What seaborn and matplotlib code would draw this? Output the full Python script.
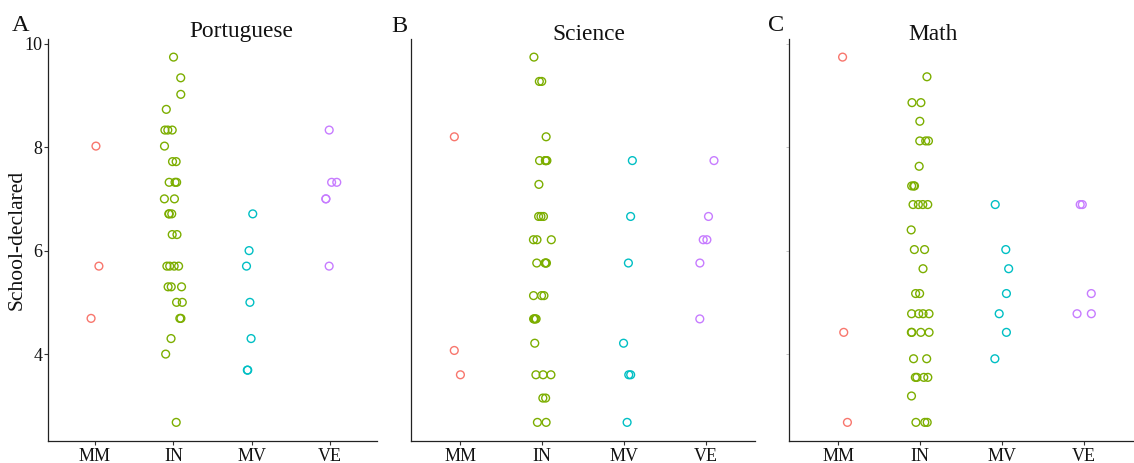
import matplotlib
matplotlib.use("Agg")
import matplotlib.pyplot as plt
import pandas as pd
import numpy as np
import seaborn as sns

# category order and ggplot-like colours
groups = ["MM", "IN", "MV", "VE"]
colors = {"MM": "#F8766D", "IN": "#7CAE00", "MV": "#00BFC4", "VE": "#C77CFF"}
subjects = ["Portuguese", "Science", "Math"]
letters = ["A", "B", "C"]

# Portuguese
port_mm = [8.02, 5.70, 4.69]
port_in = [9.74, 9.34, 9.02, 8.73, 8.33, 8.33, 8.33, 8.02, 7.72, 7.72,
           7.32, 7.32, 7.32, 7.00, 7.00, 6.71, 6.71, 6.71, 6.31, 6.31,
           5.70, 5.70, 5.70, 5.70, 5.30, 5.30, 5.30, 5.00, 5.00, 4.69,
           4.69, 4.30, 4.00, 2.68]
port_mv = [6.71, 6.00, 5.70, 5.00, 4.30, 3.69, 3.69]
port_ve = [8.33, 7.32, 7.32, 7.00, 7.00, 5.70]

# Science
sci_mm = [8.20, 4.07, 3.60]
sci_in = [9.74, 9.27, 9.27, 8.20, 7.74, 7.74, 7.74, 7.74, 7.74, 7.28,
          6.66, 6.66, 6.66, 6.21, 6.21, 6.21, 5.76, 5.76, 5.76, 5.76,
          5.13, 5.13, 5.13, 4.68, 4.68, 4.68, 4.68, 4.21, 3.60, 3.60,
          3.60, 3.15, 3.15, 2.68, 2.68]
sci_mv = [7.74, 6.66, 5.76, 4.21, 3.60, 3.60, 2.68]
sci_ve = [7.74, 6.66, 6.21, 6.21, 5.76, 4.68]

# Math
math_mm = [9.74, 4.42, 2.68]
math_in = [9.36, 8.86, 8.86, 8.50, 8.12, 8.12, 8.12, 7.63, 7.25, 7.25,
           7.25, 6.89, 6.89, 6.89, 6.89, 6.40, 6.02, 6.02, 5.65, 5.17,
           5.17, 4.78, 4.78, 4.78, 4.78, 4.42, 4.42, 4.42, 4.42, 3.91,
           3.91, 3.55, 3.55, 3.55, 3.55, 3.19, 2.68, 2.68, 2.68]
math_mv = [6.89, 6.02, 5.65, 5.17, 4.78, 4.42, 3.91]
math_ve = [6.89, 6.89, 5.17, 4.78, 4.78]

panels = [
    [port_mm, port_in, port_mv, port_ve],
    [sci_mm, sci_in, sci_mv, sci_ve],
    [math_mm, math_in, math_mv, math_ve],
]

sns.set_theme(style="white")
plt.rcParams['font.family'] = ['Liberation Serif', 'DejaVu Serif']
np.random.seed(3)

fig = plt.figure(figsize=(11.34, 4.63), dpi=100)
W, H = 1134, 463
ax_boxes = [(48, 329), (411, 344), (789, 344)]
top, bottom = 39, 441

title_pos = [(241, 37), (589, 40), (933, 40)]
letter_pos = [(12, 31), (391, 32), (768, 31)]

for i, vals in enumerate(panels):
    left, width = ax_boxes[i]
    ax = fig.add_axes([left / W, 1 - bottom / H, width / W, (bottom - top) / H])
    rows = []
    for g, v in zip(groups, vals):
        for y in v:
            rows.append({"group": g, "score": y})
    df = pd.DataFrame(rows)
    sns.stripplot(data=df, x="group", y="score", hue="group", order=groups,
                  hue_order=groups, palette=colors, jitter=0.12, size=5.6,
                  linewidth=0, legend=False, ax=ax)
    for c in ax.collections:
        fc = c.get_facecolor()
        c.set_facecolor("none")
        c.set_edgecolor(fc)
        c.set_linewidth(1.0)

    ax.set_xlim(-0.6, 3.6)
    ax.set_ylim(2.32, 10.09)
    ax.set_xlabel("")
    ax.set_ylabel("")
    for s in ["top", "right"]:
        ax.spines[s].set_visible(False)
    for s in ["left", "bottom"]:
        ax.spines[s].set_color("#222222")
        ax.spines[s].set_linewidth(0.9)
    ax.tick_params(axis="x", bottom=True, length=3, width=0.8, color="#333333",
                   labelsize=13, pad=2, labelcolor="#111111")
    ax.set_yticks([4, 6, 8, 10])
    if i == 0:
        ax.tick_params(axis="y", left=True, length=3, width=0.8, color="#333333",
                       labelsize=13, pad=1, labelcolor="#111111")
    elif i == 2:
        ax.tick_params(axis="y", left=True, length=2, width=0.6, color="#bbbbbb",
                       labelleft=False)
    else:
        ax.tick_params(axis="y", left=False, labelleft=False)

    tx, ty = title_pos[i]
    fig.text(tx / W, 1 - ty / H, subjects[i], ha="center", va="baseline",
             fontsize=16.8, color="#111111")
    lx, ly = letter_pos[i]
    fig.text(lx / W, 1 - ly / H, letters[i], ha="left", va="baseline",
             fontsize=17.5, color="#111111")

fig.text(17 / W, 1 - 240 / H, "School-declared", rotation=90, ha="center",
         va="center", fontsize=15.5, color="#111111")

fig.savefig("out.png", dpi=100)
